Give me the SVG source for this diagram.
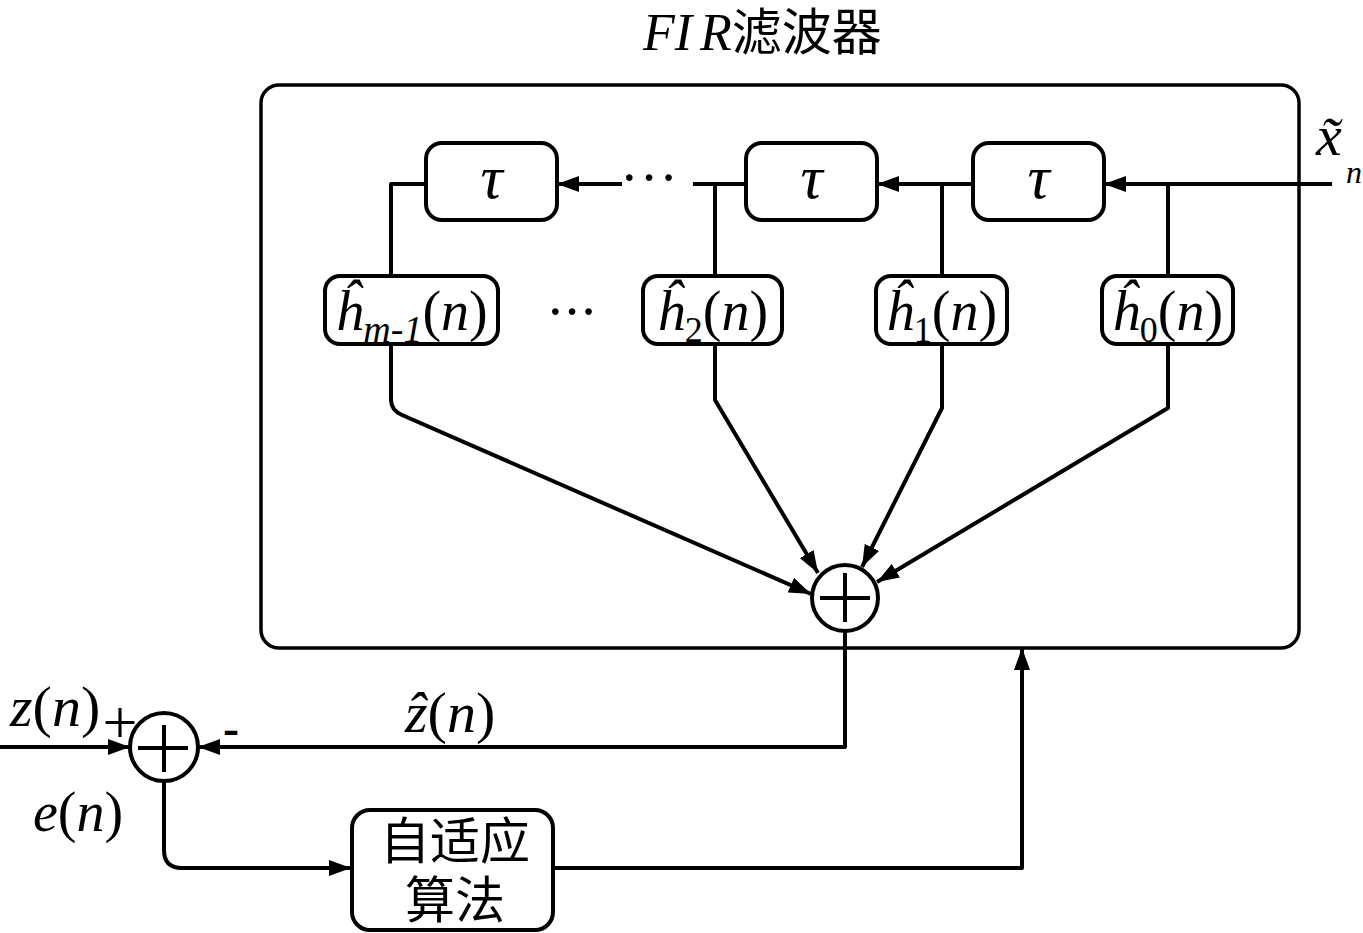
<svg xmlns="http://www.w3.org/2000/svg" width="1363" height="933" viewBox="0 0 1363 933">
<defs>
<marker id="ah" viewBox="0 0 22 16" refX="22" refY="8" markerWidth="22" markerHeight="16" markerUnits="userSpaceOnUse" orient="auto">
<path d="M0,0 L22,8 L0,16 z" fill="#000"/>
</marker>
<style>
.ln{fill:none;stroke:#000;stroke-width:4;stroke-linejoin:round}
.arr{fill:none;stroke:#000;stroke-width:4;stroke-linejoin:round;marker-end:url(#ah)}
.box{fill:#fff;stroke:#000;stroke-width:4}
.m{font-family:"Liberation Serif","Times New Roman",serif;fill:#000}
.i{font-style:italic}
.cjk{font-family:"Liberation Serif","Noto Sans CJK SC",serif;fill:#000}
</style>
</defs>
<rect width="1363" height="933" fill="#fff"/>

<g id="title">
<text x="643" y="50" class="m i" font-size="52">FI<tspan dx="8">R</tspan><tspan class="cjk" font-style="normal" font-size="50">滤波器</tspan></text>
</g>

<g id="fir-frame">
<rect x="261" y="85" width="1038" height="563" rx="18" fill="none" stroke="#000" stroke-width="3.5"/>
</g>

<g id="connectors">
<path class="arr" d="M1332,184 H1104"/>
<path class="arr" d="M973,184 H877"/>
<path class="ln" d="M746,184 H693"/>
<path class="arr" d="M622,184 H557"/>
<path class="ln" d="M426,184 H391 V277"/>
<path class="ln" d="M715,184 V277"/>
<path class="ln" d="M942,184 V277"/>
<path class="ln" d="M1168,184 V277"/>
<path class="arr" d="M391,345 V400 Q391,410 402,415 L811,594"/>
<path class="arr" d="M715,345 V400 L818,573"/>
<path class="arr" d="M942,345 V408 L862,567"/>
<path class="arr" d="M1168,345 V408 L877,582"/>
<path class="arr" d="M845,631 V747 H198"/>
<path class="arr" d="M0,747 H130"/>
<path class="arr" d="M164,781 V850 Q164,868 182,868 H351"/>
<path class="arr" d="M553,868 H1022 V648"/>
</g>

<g id="dots1"><text x="620" y="197" class="m" font-size="56" letter-spacing="1">···</text></g>
<g id="dots2"><text x="546" y="331" class="m" font-size="56" letter-spacing="-2">···</text></g>

<g id="tau-1">
<rect class="box" x="426" y="143" width="131" height="77" rx="16"/>
<text x="491.5" y="198" class="m i" font-size="62" text-anchor="middle">τ</text>
</g>
<g id="tau-2">
<rect class="box" x="746" y="143" width="131" height="77" rx="16"/>
<text x="811.5" y="198" class="m i" font-size="62" text-anchor="middle">τ</text>
</g>
<g id="tau-3">
<rect class="box" x="973" y="143" width="131" height="77" rx="16"/>
<text x="1038.5" y="198" class="m i" font-size="62" text-anchor="middle">τ</text>
</g>

<g id="h-m1">
<rect class="box" x="325" y="276" width="173" height="68" rx="15"/>
<text x="411.5" y="330" class="m" font-size="56" text-anchor="middle"><tspan class="i">ĥ</tspan><tspan class="i" font-size="38" dy="12">m-1</tspan><tspan dy="-12">(</tspan><tspan class="i">n</tspan>)</text>
</g>
<g id="h-2">
<rect class="box" x="643" y="276" width="139" height="68" rx="15"/>
<text x="712.5" y="330" class="m" font-size="56" text-anchor="middle"><tspan class="i">ĥ</tspan><tspan font-size="36" dy="12">2</tspan><tspan dy="-12">(</tspan><tspan class="i">n</tspan>)</text>
</g>
<g id="h-1">
<rect class="box" x="876" y="276" width="131" height="68" rx="15"/>
<text x="941.5" y="330" class="m" font-size="56" text-anchor="middle"><tspan class="i">ĥ</tspan><tspan font-size="36" dy="12">1</tspan><tspan dy="-12">(</tspan><tspan class="i">n</tspan>)</text>
</g>
<g id="h-0">
<rect class="box" x="1102" y="276" width="131" height="68" rx="15"/>
<text x="1167.5" y="330" class="m" font-size="56" text-anchor="middle"><tspan class="i">ĥ</tspan><tspan font-size="36" dy="12">0</tspan><tspan dy="-12">(</tspan><tspan class="i">n</tspan>)</text>
</g>

<g id="sum-fir">
<circle cx="845" cy="598" r="33" fill="#fff" stroke="#000" stroke-width="4"/>
<path class="ln" d="M820,598 H870 M845,573 V622"/>
</g>

<g id="sum-err">
<circle cx="164" cy="747" r="34" fill="#fff" stroke="#000" stroke-width="4"/>
<path class="ln" d="M138,748 H188 M164,725 V772"/>
</g>

<g id="adaptive">
<rect class="box" x="352" y="810" width="201" height="120" rx="18"/>
<text x="455" y="859" class="cjk" font-size="50" text-anchor="middle">自适应</text>
<text x="455" y="918" class="cjk" font-size="50" text-anchor="middle">算法</text>
</g>

<g id="labels">
<text x="1316" y="155" class="m i" font-size="58">x̃</text>
<text x="1346" y="183" class="m i" font-size="32">n</text>
<text x="10" y="726" class="m" font-size="58"><tspan class="i">z</tspan>(<tspan class="i">n</tspan>)</text>
<text x="120" y="743" class="m" font-size="62" text-anchor="middle">+</text>
<text x="231" y="744" class="m" font-size="48" font-weight="bold" text-anchor="middle">-</text>
<text x="405" y="732" class="m" font-size="58"><tspan class="i">ẑ</tspan>(<tspan class="i">n</tspan>)</text>
<text x="33" y="831" class="m" font-size="56"><tspan class="i">e</tspan>(<tspan class="i">n</tspan>)</text>
</g>
</svg>
